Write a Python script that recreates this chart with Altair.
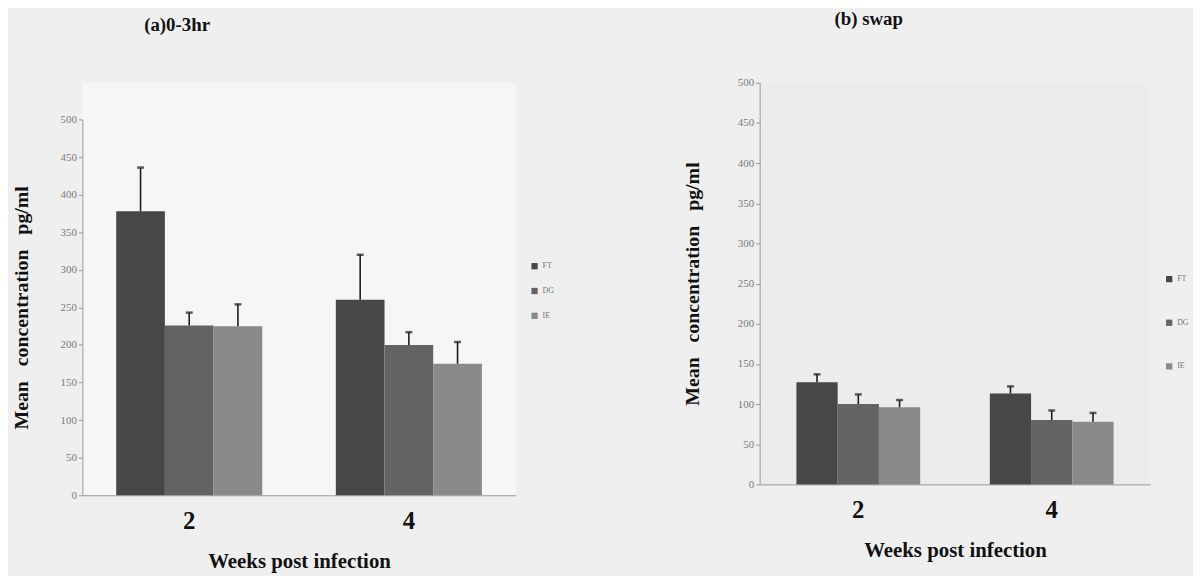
import altair as alt
import pandas as pd

weeks = ["2", "4"]
groups = ["FT", "DG", "IE"]

# panel (a) 0-3hr : week 2 then week 4, groups FT, DG, IE
a_mean = [378, 226, 225, 260, 200, 175]
a_err = [58, 17, 29, 60, 17, 29]

# panel (b) swap
b_mean = [127, 100, 96, 113, 80, 78]
b_err = [10, 12, 9, 9, 12, 11]

colors = ["#474747", "#636363", "#8a8a8a"]
y_ticks = list(range(0, 501, 50))
NB = "\u00a0"
y_title = "Mean" + NB * 3 + "concentration" + NB * 3 + "pg/ml"


def make_df(means, errs):
    rows = []
    i = 0
    for w in weeks:
        for g in groups:
            rows.append({"week": w, "group": g, "mean": means[i], "hi": means[i] + errs[i]})
            i += 1
    return pd.DataFrame(rows)


SERIF = "Liberation Serif"
NARROW = "Liberation Sans Narrow"


def panel(df, title, title_dx, width, height, top, pi, po, ytitle_pad, legx, legy, legspacing, fill):
    base = alt.Chart(df).encode(
        x=alt.X(
            "week:N",
            sort=weeks,
            scale=alt.Scale(paddingInner=pi, paddingOuter=po),
            axis=alt.Axis(
                title="Weeks post infection",
                titleFont=SERIF, titleFontSize=21, titleFontWeight="bold", titleColor="#111",
                titlePadding=18,
                labelFont=SERIF, labelFontSize=25, labelFontWeight="bold", labelColor="#111",
                labelAngle=0, labelPadding=13,
                ticks=False, domainColor="#9a9a9a", domainWidth=1,
            ),
        ),
        xOffset=alt.XOffset("group:N", sort=groups, scale=alt.Scale(paddingInner=0, paddingOuter=0)),
    )
    bars = base.mark_bar().encode(
        y=alt.Y(
            "mean:Q",
            scale=alt.Scale(domain=[0, 500], nice=False, range=[height, top]),
            axis=alt.Axis(
                title=y_title,
                titleFont=SERIF, titleFontSize=20, titleFontWeight="bold", titleColor="#111",
                titlePadding=ytitle_pad,
                values=y_ticks, labelOverlap=False, labelFont=NARROW, labelFontSize=11,
                labelColor="#7a7a7a",
                tickColor="#9a9a9a", tickSize=4, domainColor="#9a9a9a", grid=False,
            ),
        ),
        color=alt.Color(
            "group:N",
            sort=groups,
            scale=alt.Scale(domain=groups, range=colors),
            legend=alt.Legend(
                title=None, orient="none", legendX=legx, legendY=legy,
                symbolType="square", symbolSize=40, labelFont=NARROW, labelFontSize=8,
                labelColor="#777", rowPadding=legspacing, symbolStrokeWidth=0,
            ),
        ),
    )
    rules = base.mark_rule(color="#1c1c1c", strokeWidth=1.6).encode(y="mean:Q", y2="hi:Q")
    caps = base.mark_tick(color="#1c1c1c", size=7, thickness=2.5).encode(y="hi:Q")
    return (bars + rules + caps).properties(
        width=width, height=height,
        view=alt.ViewBackground(fill=fill, stroke=None),
        title=alt.TitleParams(
            title, font=NARROW, fontSize=19, fontWeight="bold", color="#111",
            anchor="middle", frame="group", dx=title_dx, offset=48,
        ),
    )


pa = panel(make_df(a_mean, a_err), "(a)0-3hr", -123, 437, 416, 37, 0.335, 0.154, 29,
           452, 181, 17, "#f6f6f6")
pb = panel(make_df(b_mean, b_err), "(b) swap", -87, 394, 405, 0, 0.36, 0.19, 35,
           409, 194, 36, "#ececec")

chart = alt.hconcat(pa, pb, spacing=129).resolve_scale(
    color="independent", x="independent", xOffset="independent", y="independent"
).properties(
    padding={"left": 3, "top": 0, "right": 4, "bottom": 2},
    background="#efefef",
).configure_view(stroke=None)

chart.save("out.html", embed_options={"renderer": "svg", "actions": False})
